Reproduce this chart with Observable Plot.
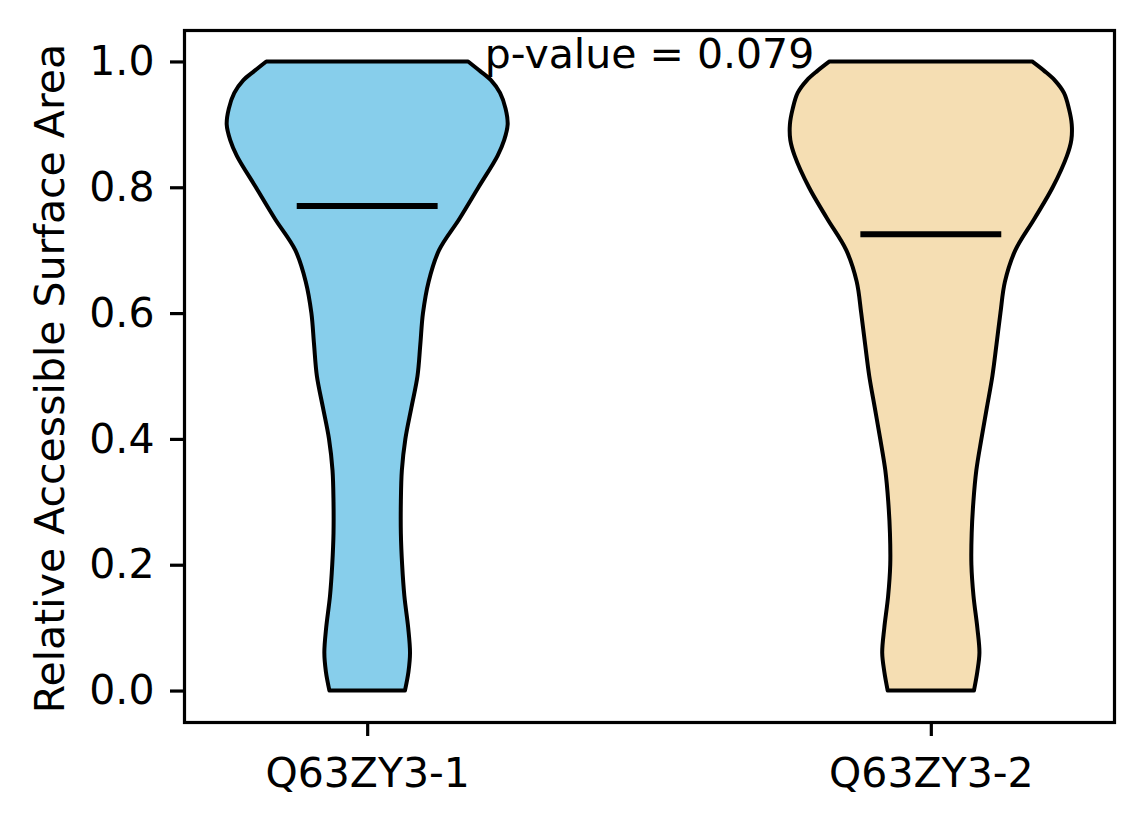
<!DOCTYPE html>
<html>
<head>
<meta charset="utf-8">
<script src="https://cdn.jsdelivr.net/npm/d3@7"></script>
<script src="https://cdn.jsdelivr.net/npm/@observablehq/plot@0.6"></script>
<style>
  html, body { margin: 0; padding: 0; background: #ffffff; }
  #chart svg { display: block; }
</style>
</head>
<body>
<div id="chart"></div>
<script>
// ---- data ----
const categories = ["Q63ZY3-1", "Q63ZY3-2"];
const positions = [1, 2];
const fillColors = ["#87CEEB", "#F5DEB3"];
const violinWidth = 0.5;

// value levels at which the violin outline was read
const levels = [0, 0.03, 0.06, 0.10, 0.15, 0.20, 0.25, 0.30, 0.35, 0.40, 0.45, 0.50, 0.55,
  0.60, 0.65, 0.70, 0.75, 0.80, 0.85, 0.875, 0.90, 0.925, 0.95, 0.97, 0.985, 1.0];
// relative density (half-width / max half-width) for each group
const density1 = [0.268, 0.293, 0.304, 0.291, 0.264, 0.248, 0.239, 0.239, 0.246, 0.271, 0.314, 0.357, 0.377,
  0.396, 0.436, 0.51, 0.655, 0.79, 0.925, 0.972, 0.997, 0.982, 0.943, 0.88, 0.80, 0.716];
const density2 = [0.306, 0.33, 0.345, 0.33, 0.303, 0.288, 0.29, 0.302, 0.323, 0.359, 0.398, 0.437, 0.466,
  0.494, 0.526, 0.60, 0.735, 0.865, 0.966, 0.997, 1.0, 0.98, 0.945, 0.88, 0.805, 0.719];
const medians = [0.771, 0.726];

const pValueLabel = ["p-value = 0.079"];
const yTicks = [0, 0.2, 0.4, 0.6, 0.8, 1.0];
const yLabel = "Relative Accessible Surface Area";

// ---- build tables ----
const densities = [density1, density2];
const violinRows = categories.flatMap((c, gi) =>
  levels.map((y, j) => ({
    group: c,
    y,
    x1: positions[gi] - densities[gi][j] * violinWidth / 2,
    x2: positions[gi] + densities[gi][j] * violinWidth / 2
  }))
);
const medianRows = categories.map((c, i) => ({
  group: c,
  y: medians[i],
  x1: positions[i] - violinWidth / 4,
  x2: positions[i] + violinWidth / 4
}));

const chart = Plot.plot({
  width: 1144,
  height: 824,
  marginLeft: 184,
  marginRight: 30,
  marginTop: 30,
  marginBottom: 102,
  x: { domain: [0.675, 2.325], label: null },
  y: { domain: [-0.05, 1.05], label: null },
  color: { domain: categories, range: fillColors },
  style: {
    fontFamily: "'DejaVu Sans', sans-serif",
    fontSize: "41px",
    color: "black",
    background: "white",
    overflow: "visible"
  },
  marks: [
    Plot.areaX(violinRows, {
      y: "y", x1: "x1", x2: "x2", z: "group", fill: "group",
      stroke: "black", strokeWidth: 4, strokeLinejoin: "round",
      curve: "catmull-rom"
    }),
    Plot.ruleY(medianRows, { y: "y", x1: "x1", x2: "x2", stroke: "black", strokeWidth: 6 }),
    Plot.text(pValueLabel, {
      x: () => d3.mean(positions),
      y: () => d3.max(levels),
      text: (d) => d,
      textAnchor: "middle",
      lineAnchor: "bottom",
      dy: 6,
      fill: "black"
    }),
    Plot.axisX({
      ticks: positions,
      tickFormat: (d) => categories[positions.indexOf(d)],
      tickSize: 14,
      tickPadding: 21,
      strokeWidth: 3.2,
      label: null
    }),
    Plot.axisY({
      ticks: yTicks,
      tickFormat: d3.format(".1f"),
      tickSize: 14,
      tickPadding: 16,
      strokeWidth: 3.2,
      label: null
    }),
    Plot.text([yLabel], {
      frameAnchor: "left",
      textAnchor: "middle",
      rotate: -90,
      dx: -121,
      dy: 2,
      lineAnchor: "bottom",
      text: (d) => d,
      fill: "black"
    }),
    Plot.frame({ stroke: "black", strokeWidth: 3.2 })
  ]
});
document.getElementById("chart").appendChild(chart);
</script>
</body>
</html>
